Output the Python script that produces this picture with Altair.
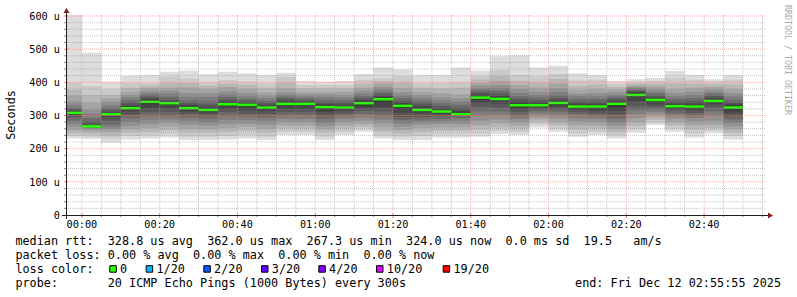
import altair as alt
import pandas as pd

# ---------------- data ----------------
# end time of each 5-minute step (the first one is clipped by the graph start)
step_end = ["00:00", "00:05", "00:10", "00:15", "00:20", "00:25", "00:30", "00:35",
            "00:40", "00:45", "00:50", "00:55", "01:00", "01:05", "01:10", "01:15",
            "01:20", "01:25", "01:30", "01:35", "01:40", "01:45", "01:50", "01:55",
            "02:00", "02:05", "02:10", "02:15", "02:20", "02:25", "02:30", "02:35",
            "02:40", "02:45", "02:50"]
graph_start = "23:55:55"
graph_end = "02:55:55"

# median rtt per step (microseconds)
median = [308, 267.3, 304, 322, 341, 337, 322, 317, 334, 332, 324, 335, 335, 325, 324,
          337, 349, 329, 317, 312, 304, 354, 350, 331, 331, 338, 327, 327, 335, 362,
          347, 328, 327, 344, 324]

# 20 sorted ping rtts per step (microseconds)
pings = [
    [231, 238, 246, 255, 265, 275, 285, 295, 302, 306, 310, 314, 318, 322, 332, 342, 360, 377, 399, 603],
    [229, 236, 244, 252, 258, 262, 264, 265, 266, 267, 268, 272, 280, 292, 305, 318, 338, 362, 389, 489],
    [218, 231, 240, 250, 258, 264, 272, 285, 296, 302, 306, 310, 316, 322, 332, 342, 352, 362, 379, 402],
    [228, 238, 248, 258, 268, 280, 292, 302, 312, 318, 324, 330, 338, 346, 354, 362, 372, 384, 399, 420],
    [231, 240, 250, 262, 274, 286, 298, 310, 322, 334, 344, 350, 356, 362, 368, 374, 382, 390, 397, 422],
    [234, 244, 255, 266, 278, 288, 298, 310, 322, 332, 338, 342, 348, 356, 366, 374, 384, 397, 417, 432],
    [226, 236, 248, 260, 272, 284, 294, 304, 312, 318, 325, 332, 338, 346, 356, 368, 385, 398, 412, 435],
    [226, 236, 248, 258, 270, 280, 290, 300, 308, 314, 320, 326, 334, 344, 356, 368, 380, 390, 400, 425],
    [228, 238, 250, 262, 274, 286, 298, 310, 320, 330, 336, 342, 348, 356, 364, 374, 386, 396, 407, 432],
    [231, 242, 254, 266, 276, 286, 296, 306, 316, 326, 334, 338, 344, 350, 358, 368, 380, 392, 402, 427],
    [226, 236, 248, 260, 272, 284, 294, 304, 314, 320, 326, 332, 338, 344, 352, 360, 370, 384, 397, 422],
    [241, 250, 260, 270, 280, 290, 300, 310, 320, 330, 338, 344, 350, 356, 362, 370, 382, 400, 417, 429],
    [241, 250, 260, 270, 280, 290, 300, 310, 320, 330, 338, 342, 346, 352, 358, 364, 372, 382, 392, 405],
    [226, 236, 248, 258, 268, 278, 290, 300, 310, 318, 328, 334, 340, 348, 356, 364, 372, 382, 392, 402],
    [241, 250, 260, 270, 280, 290, 298, 306, 314, 320, 326, 332, 338, 346, 354, 362, 372, 382, 392, 404],
    [251, 258, 266, 274, 284, 294, 304, 314, 322, 330, 340, 346, 352, 358, 366, 374, 384, 396, 408, 425],
    [231, 240, 252, 264, 276, 288, 300, 312, 324, 338, 352, 358, 364, 370, 378, 386, 396, 404, 412, 445],
    [226, 236, 246, 256, 266, 276, 286, 296, 308, 322, 332, 338, 344, 352, 360, 370, 384, 400, 418, 439],
    [226, 238, 250, 262, 272, 280, 288, 296, 306, 314, 320, 328, 336, 344, 352, 362, 372, 384, 398, 422],
    [234, 244, 254, 264, 274, 282, 290, 298, 304, 310, 314, 320, 328, 336, 346, 356, 368, 382, 398, 422],
    [234, 244, 254, 264, 274, 284, 292, 298, 302, 304, 308, 314, 322, 332, 342, 352, 364, 384, 402, 445],
    [236, 246, 258, 270, 284, 298, 312, 326, 338, 348, 358, 364, 370, 376, 382, 390, 398, 408, 420, 435],
    [244, 254, 264, 276, 288, 300, 312, 324, 336, 346, 354, 360, 366, 374, 382, 392, 404, 418, 437, 479],
    [241, 250, 260, 270, 280, 290, 300, 310, 318, 326, 336, 342, 350, 358, 368, 380, 392, 405, 422, 482],
    [264, 272, 280, 288, 296, 304, 312, 318, 324, 328, 334, 340, 346, 354, 362, 372, 384, 400, 418, 445],
    [251, 260, 270, 280, 290, 300, 310, 318, 326, 334, 340, 346, 352, 360, 370, 382, 396, 410, 425, 450],
    [236, 246, 258, 270, 282, 292, 302, 310, 318, 324, 330, 336, 342, 350, 358, 366, 376, 390, 406, 427],
    [241, 250, 260, 270, 280, 290, 298, 306, 314, 322, 330, 336, 342, 350, 358, 368, 380, 394, 408, 422],
    [231, 240, 250, 260, 270, 280, 290, 302, 314, 326, 338, 344, 350, 356, 362, 370, 378, 386, 395, 405],
    [248, 258, 268, 280, 292, 304, 316, 328, 342, 358, 366, 370, 374, 378, 382, 386, 390, 396, 402, 409],
    [271, 278, 286, 294, 302, 310, 318, 326, 334, 342, 350, 354, 360, 366, 372, 380, 388, 396, 404, 414],
    [251, 260, 270, 280, 290, 298, 306, 314, 320, 326, 330, 336, 342, 350, 358, 368, 380, 396, 414, 434],
    [234, 246, 258, 270, 282, 292, 300, 308, 316, 322, 330, 336, 344, 352, 362, 372, 384, 396, 408, 422],
    [246, 254, 262, 272, 284, 298, 312, 324, 334, 340, 348, 352, 358, 364, 370, 378, 386, 394, 402, 409],
    [228, 238, 248, 258, 268, 278, 288, 298, 308, 318, 328, 334, 340, 348, 358, 368, 380, 394, 408, 422],
]

x_tick_labels = ["00:00", "00:20", "00:40", "01:00", "01:20", "01:40", "02:00", "02:20", "02:40"]
y_major = [0, 100, 200, 300, 400, 500, 600]
y_minor_step = 20
x_minor_step = 5
y_top = 603

loss_labels = ["0", "1/20", "2/20", "3/20", "4/20", "10/20", "19/20"]
loss_colors = ["#26ff00", "#00b8ff", "#0059ff", "#5e00ff", "#7e00ff", "#dd00ff", "#ff0000"]

line1 = "median rtt:  328.8 us avg  362.0 us max  267.3 us min  324.0 us now  0.0 ms sd  19.5   am/s"
line2 = "packet loss: 0.00 % avg  0.00 % max  0.00 % min  0.00 % now"
line3 = "loss color:"
line4 = "probe:       20 ICMP Echo Pings (1000 Bytes) every 300s"
end_text = "end: Fri Dec 12 02:55:55 2025"
watermark = "RRDTOOL / TOBI OETIKER"


# ---------------- helpers ----------------
def to_min(s):
    parts = [int(p) for p in s.split(":")]
    h, m = parts[0], parts[1]
    sec = parts[2] if len(parts) > 2 else 0
    if h >= 12:
        h -= 24
    return h * 60 + m + sec / 60.0


ends = [to_min(t) for t in step_end]
x0, x1 = to_min(graph_start), to_min(graph_end)

W, H = 700, 200
MONO = "DejaVu Sans Mono"
nb = lambda s: s.replace(" ", "\u00a0")

xs = alt.Scale(domain=[x0, x1], clamp=True, nice=False, zero=False)
ys = alt.Scale(domain=[0, y_top], nice=False, zero=True)

# smoke bands: band k spans ping k .. ping 21-k, darker toward the middle
rows = []
for k in range(1, 11):
    g = int(190 / 10 * (10 - k)) + 50
    col = "#%02x%02x%02x" % (g, g, g)
    for e, p in zip(ends, pings):
        rows.append(dict(t0=e - 5, t1=e, lo=p[k - 1], hi=p[20 - k], col=col))
smoke_df = pd.DataFrame(rows)
med_df = pd.DataFrame(dict(t0=[e - 5 for e in ends], t1=ends, med=median))

smoke = alt.Chart(smoke_df).mark_rect(strokeWidth=0).encode(
    x=alt.X("t0:Q", scale=xs, axis=None),
    x2="t1:Q",
    y=alt.Y("lo:Q", scale=ys, axis=None),
    y2="hi:Q",
    fill=alt.Fill("col:N", scale=None),
)

med = alt.Chart(med_df).mark_rule(strokeWidth=2.5, color=loss_colors[0], strokeCap="butt").encode(
    x=alt.X("t0:Q", scale=xs, axis=None),
    x2="t1:Q",
    y=alt.Y("med:Q", scale=ys, axis=None),
)

# grid
major_x = [to_min(t) for t in x_tick_labels]
minor_x = [m for m in range(0, int(x1) + 1, x_minor_step) if m not in major_x]
minor_y = [v for v in range(y_minor_step, y_top, y_minor_step) if v not in y_major]
major_y = [v for v in y_major if v > 0]

GRID = "#8c8c8c"
MGRID = "#f58080"

gx_minor = alt.Chart(pd.DataFrame(dict(m=minor_x))).mark_rule(
    color=GRID, strokeDash=[1, 1], opacity=0.5).encode(
    x=alt.X("m:Q", scale=xs, axis=None), y=alt.value(0), y2=alt.value(H))
gx_major = alt.Chart(pd.DataFrame(dict(m=major_x))).mark_rule(
    color=MGRID, strokeDash=[1, 1], opacity=0.6).encode(
    x=alt.X("m:Q", scale=xs, axis=None), y=alt.value(0), y2=alt.value(H))
gy_minor = alt.Chart(pd.DataFrame(dict(v=minor_y))).mark_rule(
    color=GRID, strokeDash=[1, 1], opacity=0.5).encode(
    y=alt.Y("v:Q", scale=ys, axis=None), x=alt.value(0), x2=alt.value(W))
gy_major = alt.Chart(pd.DataFrame(dict(v=major_y))).mark_rule(
    color=MGRID, strokeDash=[1, 1], opacity=0.6).encode(
    y=alt.Y("v:Q", scale=ys, axis=None), x=alt.value(0), x2=alt.value(W))

# ticks
tx_minor = alt.Chart(pd.DataFrame(dict(m=minor_x))).mark_rule(color=GRID).encode(
    x=alt.X("m:Q", scale=xs, axis=None), y=alt.value(H), y2=alt.value(H + 2))
tx_major = alt.Chart(pd.DataFrame(dict(m=major_x))).mark_rule(color=MGRID).encode(
    x=alt.X("m:Q", scale=xs, axis=None), y=alt.value(H - 2), y2=alt.value(H + 3))
ty_minor = alt.Chart(pd.DataFrame(dict(v=minor_y))).mark_rule(color=GRID).encode(
    y=alt.Y("v:Q", scale=ys, axis=None), x=alt.value(-2), x2=alt.value(0))
ty_major = alt.Chart(pd.DataFrame(dict(v=major_y))).mark_rule(color=MGRID).encode(
    y=alt.Y("v:Q", scale=ys, axis=None), x=alt.value(-2), x2=alt.value(2))

one = pd.DataFrame(dict(a=[0]))
AXIS = "#1f1f1f"
x_axis = alt.Chart(one).mark_rule(color=AXIS, strokeWidth=1).encode(
    x=alt.value(-4), x2=alt.value(W + 3), y=alt.value(H + 0.5))
y_axis = alt.Chart(one).mark_rule(color=AXIS, strokeWidth=1).encode(
    y=alt.value(H + 4), y2=alt.value(-3), x=alt.value(0.5))
arrow_up = alt.Chart(one).mark_point(
    shape="M-1,0.8333L1,0.8333L0,-0.8333Z", filled=True, size=36, color="#801f1f", opacity=1).encode(
    x=alt.value(0.5), y=alt.value(-4.5))
arrow_right = alt.Chart(one).mark_point(
    shape="M-0.8333,-1L0.8333,0L-0.8333,1Z", filled=True, size=36, color="#801f1f", opacity=1).encode(
    x=alt.value(W + 4.5), y=alt.value(H + 0.5))

# axis labels
xl = alt.Chart(pd.DataFrame(dict(m=major_x, lab=x_tick_labels))).mark_text(
    font=MONO, fontSize=10.2, align="center", baseline="alphabetic", color="black").encode(
    x=alt.X("m:Q", scale=xs, axis=None), y=alt.value(H + 13), text="lab:N")
ylab = [nb("%d u" % v) if v else nb("0  ") for v in y_major]
yl = alt.Chart(pd.DataFrame(dict(v=y_major, lab=ylab))).mark_text(
    font=MONO, fontSize=10.2, align="right", baseline="alphabetic", color="black", dy=3.7).encode(
    y=alt.Y("v:Q", scale=ys, axis=None), x=alt.value(-6), text="lab:N")


def txt(s, x, y, size=11.8, align="left", angle=0, color="black", baseline="alphabetic"):
    return alt.Chart(one).mark_text(
        text=nb(s), font=MONO, fontSize=size, align=align, angle=angle, color=color,
        baseline=baseline).encode(x=alt.value(x), y=alt.value(y))


texts = [
    txt("Seconds", -51, 100, angle=270, align="center"),
    txt(watermark, 719, -10, size=8.3, angle=90, color="#a8a8a8"),
    txt(line1, -50.6, 230),
    txt(line2, -50.6, 244),
    txt(line3, -50.6, 258),
    txt(line4, -50.6, 272),
    txt(end_text, 715, 272, align="right"),
]

box_x = [109.3, 145.7, 203.3, 261.0, 318.3, 376.0, 442.7]
boxes = []
for bx, lab, c in zip(box_x, loss_labels, loss_colors):
    rx = bx - 66
    boxes.append(alt.Chart(one).mark_rect(fill=c, stroke="black", strokeWidth=1).encode(
        x=alt.value(rx + 0.5), x2=alt.value(rx + 7), y=alt.value(250.7), y2=alt.value(257.2)))
    texts.append(txt(lab, rx + 10.8, 258))

chart = alt.layer(
    smoke, med, gx_minor, gy_minor, gx_major, gy_major,
    tx_minor, ty_minor, tx_major, ty_major,
    x_axis, y_axis, arrow_up, arrow_right, xl, yl, *texts, *boxes,
).properties(
    width=W, height=H,
    autosize=alt.AutoSizeParams(type="none"),
    padding={"left": 66, "top": 15, "right": 31, "bottom": 82},
    background="white",
).configure_view(stroke=None)

chart.save("out.html", embed_options={"renderer": "svg", "actions": False})
